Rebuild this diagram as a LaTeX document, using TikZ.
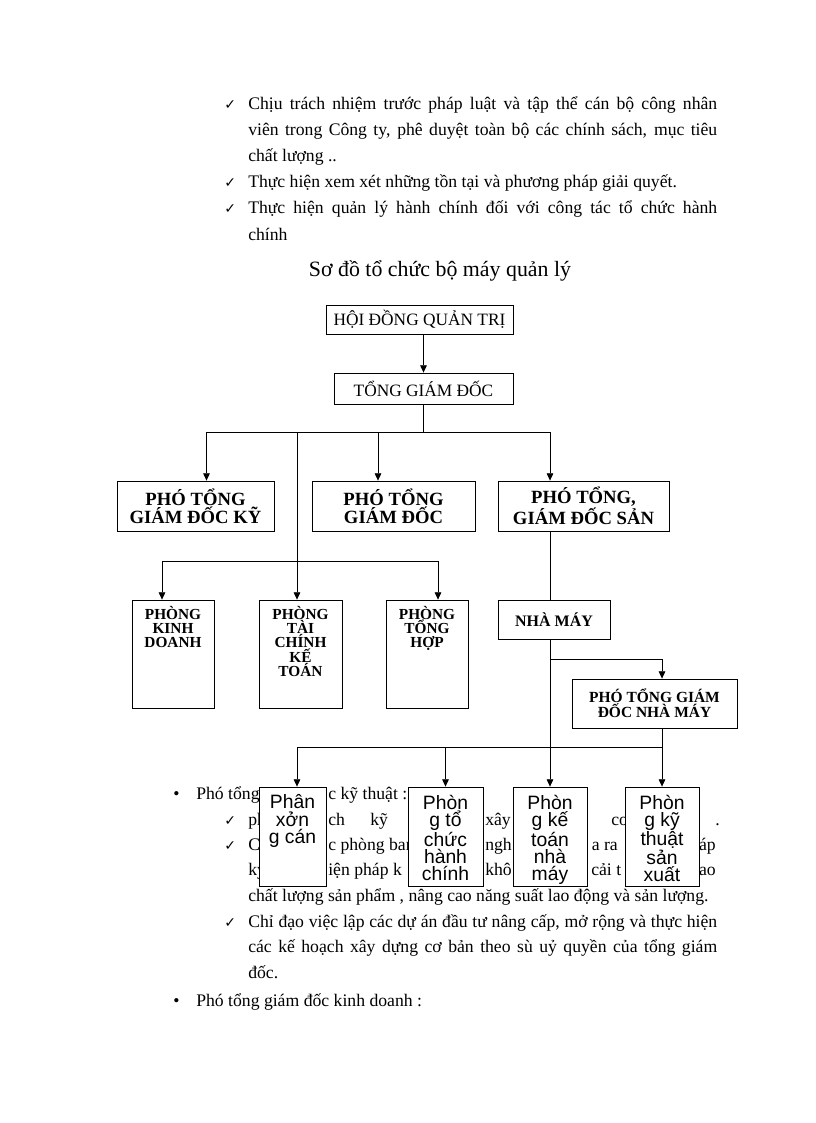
\documentclass[tikz,border=0pt]{standalone}
\usepackage{fontspec}
\setmainfont{Liberation Serif}
\newfontfamily\arialfont{Liberation Sans}
\newfontfamily\dejavu{DejaVu Sans}
\usetikzlibrary{arrows.meta}

\newcommand{\bodyfont}{\fontsize{13.25}{15}\selectfont}
\newcommand{\titlefont}{\fontsize{16.4}{18}\selectfont}
\newcommand{\checkmk}{{\dejavu\fontsize{10.5}{11}\selectfont ✓}}

\tikzset{
  txt/.style={anchor=base west, inner sep=0pt, font=\bodyfont},
  txtr/.style={anchor=base east, inner sep=0pt, font=\bodyfont},
  chk/.style={anchor=base west, inner sep=0pt},
  box/.style={draw, fill=white, line width=0.6pt, inner sep=0pt, align=center},
  topbox/.style={box, font=\fontsize{13}{13}\selectfont},
  pgbox/.style={box, minimum height=37.5pt, font=\fontsize{14}{11}\selectfont\bfseries},
  phong/.style={box, minimum height=81pt},
  phongtxt/.style={anchor=north, inner sep=0pt, align=center, yshift=-5pt, font=\fontsize{11.5}{10.6}\selectfont\bfseries},
  lowbox/.style={box, minimum height=74.25pt},
  lowtxt/.style={anchor=north, inner sep=0pt, align=center, yshift=-6pt, font=\arialfont\fontsize{14.5}{13}\selectfont},
  ln/.style={line width=0.6pt},
  arr/.style={line width=0.6pt, -{Triangle[length=5.5pt,width=5pt]}}
}

\begin{document}
\begin{tikzpicture}[x=0.75pt, y=-0.75pt]
\useasboundingbox (0,0) rectangle (816,1123);

% text above the chart
\node[chk] (c1) at (224,110) {\checkmk};
\node[txt] (l1) at (248,110) {\makebox[351.75pt][s]{Chịu trách nhiệm trước pháp luật và tập thể cán bộ công nhân}};
\node[txt] (l2) at (248,136) {\makebox[351.75pt][s]{viên trong Công ty, phê duyệt toàn bộ các chính sách, mục tiêu}};
\node[txt] (l3) at (248,162) {chất lượng ..};
\node[chk] (c2) at (224,188) {\checkmk};
\node[txt] (l4) at (248,188) {Thực hiện xem xét những tồn tại và phương pháp giải quyết.};
\node[chk] (c3) at (224,214) {\checkmk};
\node[txt] (l5) at (248,214) {\makebox[351.75pt][s]{Thực hiện quản lý hành chính đối với công tác tổ chức hành}};
\node[txt] (l6) at (248,240) {chính};

\node[anchor=base, inner sep=0pt, font=\titlefont] (title) at (440,276) {Sơ đồ tổ chức bộ máy quản lý};

% text below, partly hidden by the boxes
\node[txt] (b0) at (173,799) {•};
\node[txt] (b1) at (196,799) {Phó tổng};
\node[txt] (b2) at (328,799) {c kỹ thuật :};
\node[chk] (c4) at (224,825) {\checkmk};
\node[txt] (f1) at (248,825) {ph};
\node[txt] (f2) at (328,825) {ch};
\node[txt] (f3) at (370,825) {kỹ};
\node[txt] (f4) at (485,825) {xây};
\node[txt] (f5) at (611,825) {co};
\node[txt] (f6) at (715,825) {.};
\node[chk] (c5) at (224,850) {\checkmk};
\node[txt] (g1) at (248,850) {C};
\node[txt] (g2) at (328,850) {c phòng ban};
\node[txt] (g3) at (485,850) {ngh};
\node[txtr] (g4) at (618,850) {a ra};
\node[txtr] (g5) at (716,850) {áp};
\node[txt] (h1) at (248,875) {kỹ};
\node[txt] (h2) at (328,875) {iện pháp k};
\node[txt] (h3) at (485,875) {khô};
\node[txt] (h4) at (591,875) {cải t};
\node[txtr] (h5) at (716,875) {ao};
\node[txt] (l7) at (248,901) {chất lượng sản phẩm , nâng cao năng suất lao động và sản lượng.};
\node[chk] (c6) at (224,927) {\checkmk};
\node[txt] (l8) at (248,927) {\makebox[351.75pt][s]{Chỉ đạo việc lập các dự án đầu tư nâng cấp, mở rộng và thực hiện}};
\node[txt] (l9) at (248,952) {\makebox[351.75pt][s]{các kế hoạch xây dựng cơ bản theo sù uỷ quyền của tổng giám}};
\node[txt] (l10) at (248,978) {đốc.};
\node[txt] (b3) at (173,1006) {•};
\node[txt] (b4) at (196,1006) {Phó tổng giám đốc kinh doanh :};

% chart boxes
\node[topbox, minimum width=140.25pt, minimum height=21.75pt] (hdqt) at (419.5,319.5) {HỘI ĐỒNG QUẢN TRỊ};
\node[topbox, minimum width=134.25pt, minimum height=23.25pt] (tgd) at (423.5,388.5) {TỔNG GIÁM ĐỐC};

\node[pgbox, minimum width=117.75pt] (pgkt) at (195.5,506) {PHÓ TỔNG\\GIÁM ĐỐC KỸ};
\node[pgbox, minimum width=122.25pt] (pgd) at (393.5,506) {PHÓ TỔNG\\GIÁM ĐỐC};
\node[pgbox, minimum width=128.25pt] (pgsx) at (583.5,506) {PHÓ TỔNG,\\GIÁM ĐỐC SẢN};

\node[phong, minimum width=61.5pt] (pkd) at (173,654) {};
\node[phongtxt] (pkdt) at (pkd.north) {PHÒNG\\KINH\\DOANH};
\node[phong, minimum width=62.25pt] (ptc) at (300.5,654) {};
\node[phongtxt] (ptct) at (ptc.north) {PHÒNG\\TÀI\\CHÍNH\\KẾ\\TOÁN};
\node[phong, minimum width=61.5pt] (pth) at (427,654) {};
\node[phongtxt] (ptht) at (pth.north) {PHÒNG\\TỔNG\\HỢP};

\node[box, minimum width=84pt, minimum height=29.25pt, font=\fontsize{12}{12}\selectfont\bfseries] (nm) at (554,619.5) {NHÀ MÁY};
\node[box, minimum width=123.75pt, minimum height=36.75pt, font=\fontsize{11.6}{9.6}\selectfont\bfseries] (pgnm) at (654.5,703.5) {PHÓ TỔNG GIÁM\\ĐỐC NHÀ MÁY};

\node[lowbox, minimum width=50.25pt] (pxc) at (292.5,836.5) {};
\node[lowtxt] (pxct) at (pxc.north) {Phân\\xởn\\g cán};
\node[lowbox, minimum width=56.25pt] (ptchc) at (445.5,836.5) {};
\node[lowtxt] (ptchct) at (ptchc.north) {Phòn\\g tổ\\chức\\hành\\chính};
\node[lowbox, minimum width=55.5pt] (pktnm) at (550,836.5) {};
\begin{scope}
  \clip (pktnm.south west) rectangle (pktnm.north east);
  \node[lowtxt] (pktnmt) at (pktnm.north) {Phòn\\g kế\\toán\\nhà\\máy};
\end{scope}
\node[lowbox, minimum width=55.5pt] (pktsx) at (662,836.5) {};
\node[lowtxt] (pktsxt) at (pktsx.north) {Phòn\\g kỹ\\thuật\\sản\\xuất};

% connectors
\coordinate (k0) at (297,432);
\coordinate (k1) at (206.5,432);
\coordinate (k2) at (378,432);
\coordinate (k3) at (550,432);
\coordinate (m1) at (162,561);
\coordinate (m3) at (438,561);
\coordinate (n1) at (550,659);
\coordinate (n2) at (662,659);
\coordinate (s1) at (297,747);
\coordinate (s4) at (662,747);

\draw[arr] (tgd.north |- hdqt.south) -- (tgd.north);
\draw[ln] (tgd.south) -- (tgd.south |- k1);
\draw[ln] (k1) -- (k3);
\draw[arr] (k1) -- (k1 |- pgkt.north);
\draw[arr] (k2) -- (k2 |- pgd.north);
\draw[arr] (k3) -- (k3 |- pgsx.north);
\draw[arr] (k0) -- (k0 |- ptc.north);
\draw[ln] (m1) -- (m3);
\draw[arr] (m1) -- (m1 |- pkd.north);
\draw[arr] (m3) -- (m3 |- pth.north);
\draw[ln] (k3 |- pgsx.south) -- (k3 |- nm.north);
\draw[arr] (k3 |- nm.south) -- (k3 |- pktnm.north);
\draw[arr] (n1) -- (n2) -- (n2 |- pgnm.north);
\draw[ln] (n2 |- pgnm.south) -- (s4);
\draw[ln] (s1) -- (s4);
\draw[arr] (s1) -- (s1 |- pxc.north);
\draw[arr] (s1 -| ptchc.north) -- (ptchc.north);
\draw[arr] (s4) -- (pktsx.north);
\end{tikzpicture}
\end{document}
